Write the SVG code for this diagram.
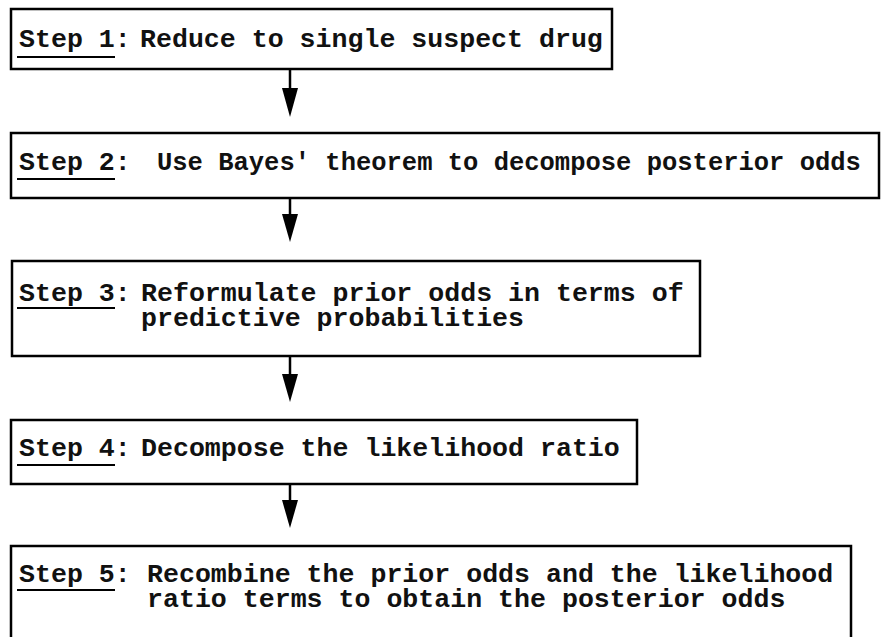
<svg xmlns="http://www.w3.org/2000/svg" width="883" height="637" viewBox="0 0 883 637">
<style>
.box{fill:#fff;stroke:#000;stroke-width:2.5}
.t{font-family:"Liberation Mono","DejaVu Sans Mono",monospace;font-size:26.6px;font-weight:bold;fill:#111}
.ul{stroke:#000;stroke-width:2.2}
.conn{stroke:#000;stroke-width:2.5;fill:none}
.head{fill:#000}
</style>
<rect width="883" height="637" fill="#fff"/>
<g id="connectors">
<line class="conn" x1="290" y1="69" x2="290" y2="88"/>
<path class="head" d="M282,88 L298,88 L290,117 Z"/>
<line class="conn" x1="290" y1="198" x2="290" y2="214"/>
<path class="head" d="M282,214 L298,214 L290,242 Z"/>
<line class="conn" x1="290" y1="356" x2="290" y2="374"/>
<path class="head" d="M282,374 L298,374 L290,402 Z"/>
<line class="conn" x1="290" y1="484" x2="290" y2="500"/>
<path class="head" d="M282,500 L298,500 L290,528 Z"/>
</g>
<g id="step1">
<rect class="box" x="11" y="9" width="601" height="60"/>
<text class="t" x="19" y="47">Step 1:</text>
<line class="ul" x1="17" y1="57" x2="115" y2="57"/>
<text class="t" x="140" y="47">Reduce to single suspect drug</text>
</g>
<g id="step2">
<rect class="box" x="11" y="133" width="868" height="65"/>
<text class="t" x="19" y="170">Step 2:</text>
<line class="ul" x1="17" y1="179" x2="115" y2="179"/>
<text class="t" x="157" y="170" style="font-size:25.5px">Use Bayes' theorem to decompose posterior odds</text>
</g>
<g id="step3">
<rect class="box" x="12" y="261" width="688" height="95"/>
<text class="t" x="19" y="301">Step 3:</text>
<line class="ul" x1="17" y1="308" x2="115" y2="308"/>
<text class="t" x="141" y="301"><tspan x="141" y="301">Reformulate prior odds in terms of</tspan><tspan x="141" y="326">predictive probabilities</tspan></text>
</g>
<g id="step4">
<rect class="box" x="11" y="420" width="626" height="64"/>
<text class="t" x="19" y="456">Step 4:</text>
<line class="ul" x1="17" y1="465" x2="115" y2="465"/>
<text class="t" x="141" y="456">Decompose the likelihood ratio</text>
</g>
<g id="step5">
<rect class="box" x="11" y="546" width="840" height="110"/>
<text class="t" x="19" y="582">Step 5:</text>
<line class="ul" x1="17" y1="590" x2="115" y2="590"/>
<text class="t" x="147" y="582"><tspan x="147" y="582">Recombine the prior odds and the likelihood</tspan><tspan x="147" y="607">ratio terms to obtain the posterior odds</tspan></text>
</g>
</svg>
